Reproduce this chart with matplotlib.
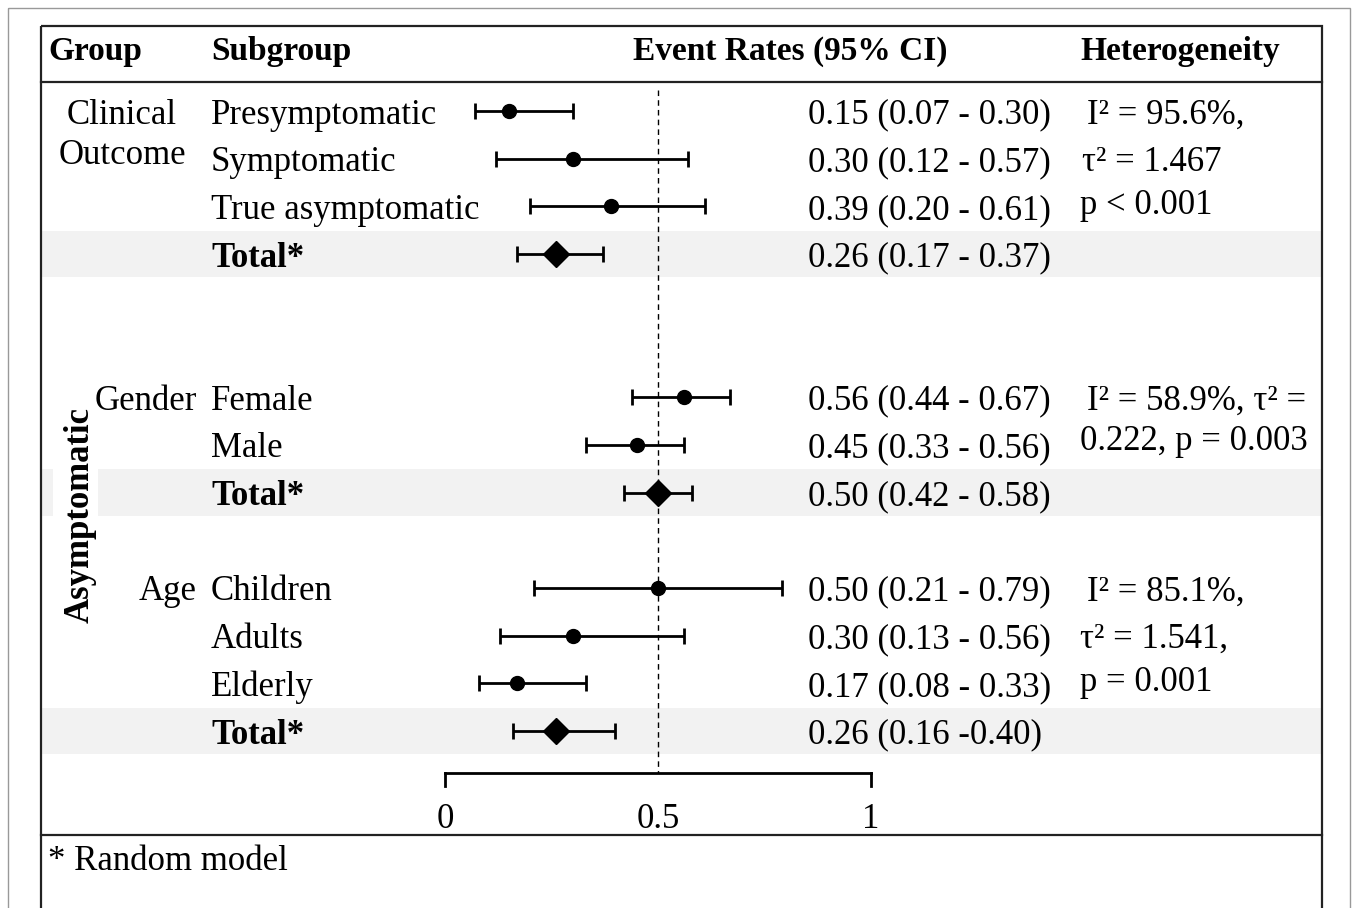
import matplotlib.pyplot as plt
from matplotlib.patches import Rectangle

plt.rcParams['font.family'] = ['Liberation Serif', 'DejaVu Serif']

# data
subgroups = ['Presymptomatic', 'Symptomatic', 'True asymptomatic', 'Total*',
             'Female', 'Male', 'Total*',
             'Children', 'Adults', 'Elderly', 'Total*']
rows = [0, 1, 2, 3, 6, 7, 8, 10, 11, 12, 13]
est = [0.15, 0.30, 0.39, 0.26, 0.56, 0.45, 0.50, 0.50, 0.30, 0.17, 0.26]
lo = [0.07, 0.12, 0.20, 0.17, 0.44, 0.33, 0.42, 0.21, 0.13, 0.08, 0.16]
hi = [0.30, 0.57, 0.61, 0.37, 0.67, 0.56, 0.58, 0.79, 0.56, 0.33, 0.40]
is_total = [False, False, False, True, False, False, True, False, False, False, True]
ci_text = ['0.15 (0.07 - 0.30)', '0.30 (0.12 - 0.57)', '0.39 (0.20 - 0.61)',
           '0.26 (0.17 - 0.37)', '0.56 (0.44 - 0.67)', '0.45 (0.33 - 0.56)',
           '0.50 (0.42 - 0.58)', '0.50 (0.21 - 0.79)', '0.30 (0.13 - 0.56)',
           '0.17 (0.08 - 0.33)', '0.26 (0.16 -0.40)']
het_text = [(0, 1087, 'I² = 95.6%,'), (1, 1082, 'τ² = 1.467'), (1.9, 1080, 'p < 0.001'),
            (6, 1087, 'I² = 58.9%, τ² ='), (6.85, 1080, '0.222, p = 0.003'),
            (10, 1087, 'I² = 85.1%,'), (11, 1080, 'τ² = 1.541,'), (11.9, 1080, 'p = 0.001')]
ticks = [0, 0.5, 1]

W, H = 1357, 908
X0, XS = 445, 426      # pixel of 0, pixels per unit
Y0, YS = 111, 47.7     # pixel of row 0, pixels per row


def px(x):
    return (x - X0) / XS


def py(y):
    return (y - Y0) / YS


fig = plt.figure(figsize=(W / 100, H / 100), dpi=100)
ax = fig.add_axes([0, 0, 1, 1])
ax.set_xlim(px(0), px(W))
ax.set_ylim(py(H), py(0))
ax.axis('off')

fs = 25
vs = 'center_baseline'

# frames
ax.add_patch(Rectangle((px(8), py(8)), px(1350) - px(8), py(920) - py(8),
                       fill=False, ec='#999999', lw=1))
ax.add_patch(Rectangle((px(41), py(26)), px(1322) - px(41), py(920) - py(26),
                       fill=False, ec='#222222', lw=1.6))
ax.plot([px(41), px(1322)], [py(82)] * 2, color='#222222', lw=1.6)
ax.plot([px(41), px(1322)], [py(835)] * 2, color='#222222', lw=1.6)

# shaded total rows (gap where the vertical label crosses)
for r, t in zip(rows, is_total):
    if not t:
        continue
    if r == 8:
        spans = [(41, 53), (98, 1322)]
    else:
        spans = [(41, 1322)]
    for a, b in spans:
        ax.add_patch(Rectangle((px(a), r - 0.49), px(b) - px(a), 0.98,
                               color='#f2f2f2', lw=0, zorder=0))

# headers
hy = py(48)
ax.text(px(48), hy, 'Group', fontsize=24, fontweight='bold', va=vs)
ax.text(px(211), hy, 'Subgroup', fontsize=24, fontweight='bold', va=vs)
ax.text(px(633), hy, 'Event Rates (95% CI)', fontsize=24, fontweight='bold', va=vs)
ax.text(px(1080), hy, 'Heterogeneity', fontsize=24, fontweight='bold', va=vs)

# group labels
ax.text(px(122), 0, 'Clinical', fontsize=fs, ha='center', va=vs)
ax.text(px(122), py(152), 'Outcome', fontsize=fs, ha='center', va=vs)
ax.text(px(197), 6, 'Gender', fontsize=fs, ha='right', va=vs)
ax.text(px(197), 10, 'Age', fontsize=fs, ha='right', va=vs)
ax.text(px(80), py(515), 'Asymptomatic', fontsize=fs, fontweight='bold', rotation=90,
        ha='center', va='center')

# reference line
ax.plot([0.5, 0.5], [py(90), py(773)], color='black', lw=1, ls=(0, (4, 3)), zorder=1)

# rows
for name, r, e, l, h, t, c in zip(subgroups, rows, est, lo, hi, is_total, ci_text):
    ax.text(px(211), r, name, fontsize=fs, va=vs,
            fontweight='bold' if t else 'normal')
    ax.text(px(808), r, c, fontsize=fs, va=vs)
    ax.errorbar(e, r, xerr=[[e - l], [h - e]], fmt='D' if t else 'o',
                color='black', ms=13 if t else 10, elinewidth=2,
                capsize=6, capthick=2, zorder=3)

for r, x, s in het_text:
    ax.text(px(x), r, s, fontsize=fs, va=vs)

# axis
ya = py(773)
ax.plot([ticks[0], ticks[-1]], [ya, ya], color='black', lw=2)
for t in [ticks[0], ticks[-1]]:
    ax.plot([t, t], [ya, py(786)], color='black', lw=2)
for t in ticks:
    ax.text(t, py(815), f'{t:g}', fontsize=fs, ha='center', va=vs)

ax.text(px(48), py(858), '* Random model', fontsize=fs, va=vs)

fig.savefig('out.png', dpi=100)
